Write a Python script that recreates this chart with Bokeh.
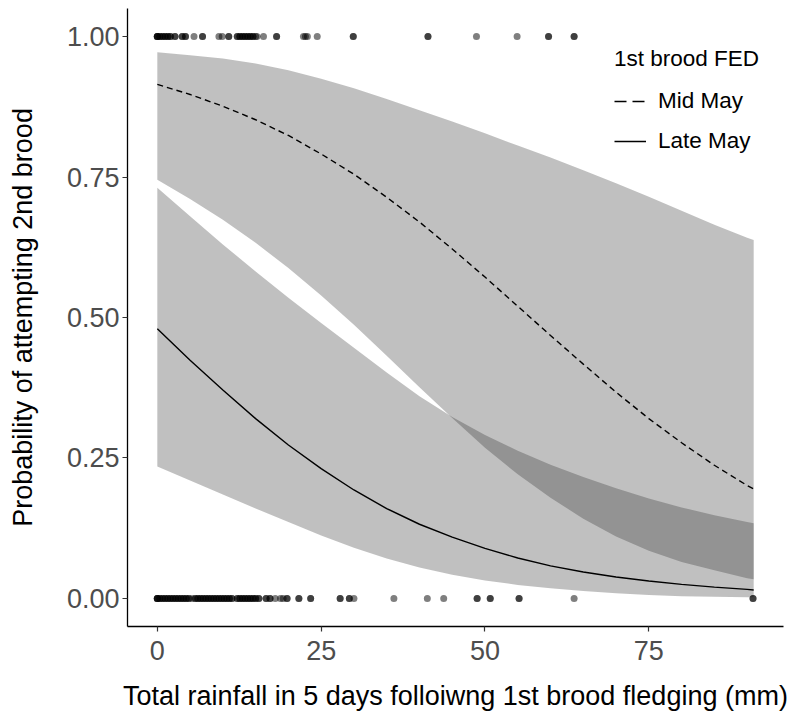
from bokeh.plotting import figure
from bokeh.models import (Range1d, FixedTicker, NumeralTickFormatter, Legend,
                          LegendItem, ColumnDataSource)
from bokeh.embed import file_html
from bokeh.resources import INLINE

# Rainfall (mm) at which the fitted probabilities are evaluated
rain = [0, 5, 10, 15, 20, 25, 30, 35, 40, 45, 50, 55, 60, 65, 70, 75, 80, 85, 90, 91]

# Mid May first-brood fledging: fitted probability and 95% band
mid_fit = [0.915, 0.897, 0.876, 0.852, 0.824, 0.791, 0.755, 0.714, 0.670, 0.622,
           0.572, 0.520, 0.468, 0.417, 0.367, 0.320, 0.277, 0.237, 0.201, 0.195]
mid_lo = [0.745, 0.711, 0.674, 0.633, 0.588, 0.539, 0.487, 0.432, 0.376, 0.321,
          0.268, 0.221, 0.179, 0.142, 0.110, 0.085, 0.065, 0.050, 0.036, 0.034]
mid_hi = [0.972, 0.967, 0.961, 0.952, 0.940, 0.925, 0.908, 0.889, 0.869, 0.849,
          0.828, 0.806, 0.785, 0.762, 0.739, 0.715, 0.690, 0.665, 0.642, 0.638]

# Late May first-brood fledging: fitted probability and 95% band
late_fit = [0.480, 0.424, 0.371, 0.320, 0.273, 0.231, 0.193, 0.160, 0.132, 0.109,
            0.089, 0.072, 0.058, 0.047, 0.038, 0.031, 0.025, 0.020, 0.016, 0.015]
late_lo = [0.235, 0.210, 0.185, 0.160, 0.136, 0.112, 0.090, 0.071, 0.055, 0.042,
           0.032, 0.024, 0.018, 0.013, 0.009, 0.006, 0.004, 0.003, 0.002, 0.002]
late_hi = [0.731, 0.680, 0.630, 0.582, 0.535, 0.490, 0.446, 0.402, 0.360, 0.323,
           0.291, 0.263, 0.238, 0.216, 0.196, 0.178, 0.162, 0.148, 0.136, 0.134]

# Observed nests: rainfall for nests that attempted (1) or did not attempt (0) a 2nd brood
rain_yes = [0, 0, 0, 0, 0.4, 0.4, 0.8, 0.8, 1.2, 1.2, 1.6, 1.6, 2, 2, 2.7, 2.7,
            3.8, 3.8, 4.3, 4.3, 5.6, 6.9, 6.9, 9.4, 9.9, 10.9, 10.9,
            12.2, 12.2, 12.6, 12.6, 13.0, 13.0, 13.4, 13.4, 13.8, 13.8, 14.2,
            14.2, 14.6, 14.6, 15.0, 15.2, 16.2, 18.2, 18.2, 22.3, 22.6, 22.9,
            24.4, 29.9, 29.9, 41.3, 41.3, 48.7, 54.9, 59.7, 59.7, 63.6, 63.6]
rain_no = [0, 0, 0, 0, 0.4, 0.4, 0.8, 0.8, 1.2, 1.2, 1.6, 1.6, 2, 2, 2.4, 2.4,
           2.8, 2.8, 3.2, 3.2, 3.6, 3.6, 4, 4, 4.4, 4.4, 4.8, 4.8, 5.3, 5.8,
           5.8, 6.2, 6.2, 6.6, 6.6, 7, 7, 7.4, 7.4, 7.8, 7.8, 8.2, 8.2, 8.6,
           8.6, 9, 9, 9.4, 9.4, 9.8, 9.8, 10.2, 10.2, 10.6, 10.6, 11, 11, 11.4,
           11.4, 12.2, 12.2, 12.6, 12.6, 13.0, 13.0, 13.4, 13.4, 13.8, 13.8,
           14.2, 14.2, 14.6, 14.6, 15.0, 15.0, 15.5, 15.5, 16.6, 16.6, 17.2,
           17.2, 18, 18.8, 19.2, 19.8, 19.8, 21.6, 21.6, 23.4, 23.4, 27.9, 27.9,
           29.3, 29.3, 30, 36.1, 41.2, 43.7, 48.8, 48.8, 50.8, 50.8, 55.2, 55.2,
           63.6, 90.9, 90.9]

x_ticks = [0, 25, 50, 75]
y_ticks = [0, 0.25, 0.5, 0.75, 1]

FONT = "Liberation Sans"

p = figure(width=798, height=717, output_backend="svg", toolbar_location=None,
           x_range=Range1d(-4.55, 95.55), y_range=Range1d(-0.05, 1.05),
           min_border_left=127, min_border_right=15, min_border_top=8,
           min_border_bottom=91)
p.outline_line_color = None
p.grid.visible = False
p.background_fill_color = "white"

src = ColumnDataSource(dict(rain=rain, mid_fit=mid_fit, mid_lo=mid_lo, mid_hi=mid_hi,
                            late_fit=late_fit, late_lo=late_lo, late_hi=late_hi))

# confidence ribbons (translucent so the overlap darkens)
band_kw = dict(fill_color="#232323", fill_alpha=0.286)
p.varea(x="rain", y1="mid_lo", y2="mid_hi", source=src, **band_kw)
p.varea(x="rain", y1="late_lo", y2="late_hi", source=src, **band_kw)

# fitted curves
p.line(x="rain", y="mid_fit", source=src, line_color="black", line_width=1.4,
       line_dash="6 4")
p.line(x="rain", y="late_fit", source=src, line_color="black", line_width=1.4)

# observations
p.scatter(x=rain_yes, y=[1] * len(rain_yes), size=7, fill_color="black",
          fill_alpha=0.5, line_alpha=0)
p.scatter(x=rain_no, y=[0] * len(rain_no), size=7, fill_color="black",
          fill_alpha=0.5, line_alpha=0)

# legend keys (kept outside the visible ranges)
mid_key = p.line(x=[-30, -29], y=[-1, -1], line_color="black", line_width=1.4,
                 line_dash="12 6")
late_key = p.line(x=[-30, -29], y=[-1, -1], line_color="black", line_width=1.4)

legend = Legend(items=[LegendItem(label="Mid May", renderers=[mid_key]),
                       LegendItem(label="Late May", renderers=[late_key])],
                title="1st brood FED", location=(487, 470),
                border_line_color=None, background_fill_alpha=0,
                padding=0, margin=0, spacing=10,
                glyph_width=32, glyph_height=30, label_height=30,
                label_standoff=12, title_standoff=14,
                title_text_font=FONT, title_text_font_size="22.5px",
                title_text_font_style="normal", title_text_color="black",
                label_text_font=FONT, label_text_font_size="22.5px",
                label_text_color="black")
p.add_layout(legend)

# axes
for ax in (p.xaxis[0], p.yaxis[0]):
    ax.axis_line_color = "black"
    ax.axis_line_width = 1.3
    ax.major_tick_line_color = "#333333"
    ax.major_tick_line_width = 1.2
    ax.major_tick_out = 5
    ax.major_tick_in = 0
    ax.minor_tick_line_color = None
    ax.major_label_text_font = FONT
    ax.major_label_text_font_size = "27px"
    ax.major_label_text_color = "#4D4D4D"
    ax.axis_label_text_font = FONT
    ax.axis_label_text_font_size = "27px"
    ax.axis_label_text_font_style = "normal"
    ax.axis_label_text_color = "black"

p.xaxis.ticker = FixedTicker(ticks=x_ticks)
p.yaxis.ticker = FixedTicker(ticks=y_ticks)
p.yaxis.formatter = NumeralTickFormatter(format="0.00")
p.xaxis.axis_label = "Total rainfall in 5 days folloiwng 1st brood fledging (mm)"
p.yaxis.axis_label = "Probability of attempting 2nd brood"
p.xaxis.major_label_standoff = 9
p.xaxis.axis_label_standoff = 18
p.yaxis.major_label_standoff = 3
p.yaxis.axis_label_standoff = 26

open("out.html", "w").write(file_html(p, INLINE))
